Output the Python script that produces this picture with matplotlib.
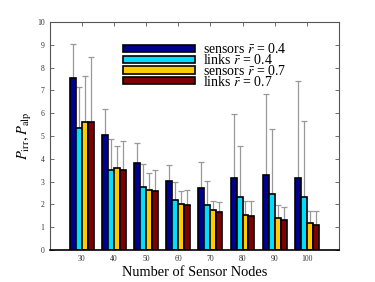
import matplotlib
matplotlib.use('Agg')
import matplotlib.pyplot as plt
from matplotlib.patches import Rectangle
import numpy as np

plt.rcParams['font.family'] = ['Liberation Serif', 'DejaVu Serif']
plt.rcParams['mathtext.fontset'] = 'stix'

nodes = [30, 40, 50, 60, 70, 80, 90, 100]
series = ['sensors $\\bar{r}$ = 0.4', 'links $\\bar{r}$ = 0.4',
          'sensors $\\bar{r}$ = 0.7', 'links $\\bar{r}$ = 0.7']
sens_04 = [7.53, 5.04, 3.80, 3.03, 2.72, 3.14, 3.28, 3.17]
links_04 = [5.36, 3.51, 2.75, 2.19, 1.99, 2.34, 2.44, 2.32]
sens_07 = [5.63, 3.58, 2.62, 2.03, 1.74, 1.55, 1.39, 1.18]
links_07 = [5.63, 3.51, 2.57, 1.96, 1.65, 1.51, 1.32, 1.11]
# upper end of the error bars
sens_04_hi = [9.05, 6.20, 4.68, 3.71, 3.85, 5.95, 6.84, 7.41]
links_04_hi = [7.16, 4.85, 3.76, 3.00, 3.04, 4.55, 5.32, 5.66]
sens_07_hi = [7.62, 4.57, 3.36, 2.60, 2.15, 2.13, 1.96, 1.70]
links_07_hi = [8.48, 4.80, 3.52, 2.62, 2.09, 2.13, 1.90, 1.70]

colors = ['#00008F', '#00DDFF', '#FFCC00', '#800000']
values = [sens_04, links_04, sens_07, links_07]
highs = [sens_04_hi, links_04_hi, sens_07_hi, links_07_hi]

fig = plt.figure(figsize=(3.75, 2.82), dpi=100)
ax = fig.add_axes([0.132, 0.1135, 0.772, 0.8085])

x = np.array(nodes, dtype=float)
w = 1.85
for i, (vals, hi, c) in enumerate(zip(values, highs, colors)):
    pos = x + (i - 1.5) * w
    vals = np.array(vals)
    up = np.array(hi) - vals
    ax.errorbar(pos, vals, yerr=[np.zeros_like(up), up], fmt='none',
                ecolor='#999999', elinewidth=0.9, capsize=2, capthick=0.9,
                zorder=1)
    ax.bar(pos, vals, width=w, color=c, edgecolor='black', linewidth=1.2,
           zorder=2)

# legend drawn by hand to match the tight row spacing
rows_y = [0.885, 0.836, 0.789, 0.743]
for c, lab, yy in zip(colors, series, rows_y):
    ax.add_patch(Rectangle((0.253, yy - 0.016), 0.251, 0.032,
                           transform=ax.transAxes, facecolor=c,
                           edgecolor='black', linewidth=1.2, zorder=5))
    ax.text(0.530, yy - 0.004, lab, transform=ax.transAxes, fontsize=10,
            va='center', ha='left', zorder=5)

ax.set_xlim(20, 110)
ax.set_ylim(0, 10)
ax.set_xticks(nodes)
ax.set_yticks(range(0, 11))
ax.tick_params(direction='in', top=True, right=True, labelsize=5.5,
               length=3, width=0.6, labelcolor='#333333', color='#555555')
for s in ax.spines.values():
    s.set_linewidth(0.8)
    s.set_color('#555555')
ax.spines['bottom'].set_color('black')
ax.spines['bottom'].set_linewidth(1.2)

ax.set_xlabel('Number of Sensor Nodes', fontsize=10.4, labelpad=2)
ax.set_ylabel('$P_{\\rm irr}, P_{\\rm alp}$', fontsize=10.5, labelpad=2)

fig.savefig('out.png', dpi=100)
